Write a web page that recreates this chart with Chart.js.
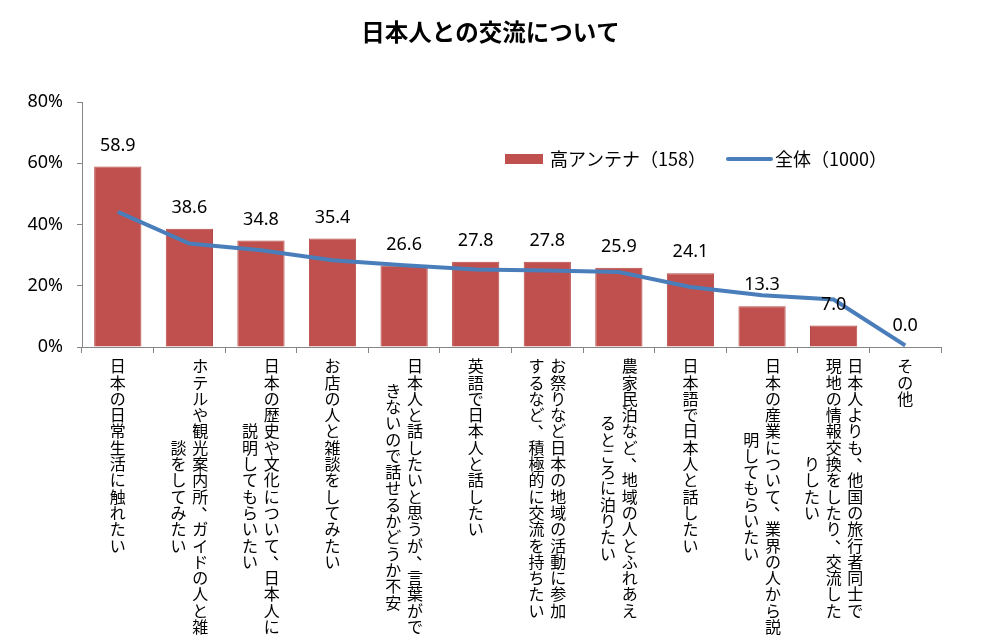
<!DOCTYPE html>
<html lang="ja">
<head>
<meta charset="utf-8">
<title>日本人との交流について</title>
<script src="https://cdn.jsdelivr.net/npm/chart.js@4.4.1/dist/chart.umd.min.js"></script>
<style>
  html, body { margin: 0; padding: 0; background: #fff; }
  #wrap { width: 981px; height: 636px; position: relative; }
</style>
</head>
<body>
<div id="wrap"><canvas id="chart"></canvas></div>
<script>
// 項目名（縦書き、1要素 = 1列、右から左へ）
const categories = [
  ['日本の日常生活に触れたい'],
  ['ホテルや観光案内所、ガイドの人と雑', '談をしてみたい'],
  ['日本の歴史や文化について、日本人に', '説明してもらいたい'],
  ['お店の人と雑談をしてみたい'],
  ['日本人と話したいと思うが、言葉がで', 'きないので話せるかどうか不安'],
  ['英語で日本人と話したい'],
  ['お祭りなど日本の地域の活動に参加', 'するなど、積極的に交流を持ちたい'],
  ['農家民泊など、地域の人とふれあえ', 'るところに泊りたい'],
  ['日本語で日本人と話したい'],
  ['日本の産業について、業界の人から説', '明してもらいたい'],
  ['日本人よりも、他国の旅行者同士で', '現地の情報交換をしたり、交流した', 'りしたい'],
  ['その他']
]

const highAntenna = [58.9, 38.6, 34.8, 35.4, 26.6, 27.8, 27.8, 25.9, 24.1, 13.3, 7.0, 0.0]
const overall = [44.1, 33.8, 31.6, 28.3, 26.7, 25.3, 25.0, 24.5, 19.6, 16.9, 15.5, 0.5]
const yTicks = [0, 20, 40, 60, 80]

const chartTitle = '日本人との交流について'
const seriesNames = ['高アンテナ（158）', '全体（1000）']
const barColor = '#C0504D'
const lineColor = '#4A7EBB'
const axisColor = '#868686'
const fontJP = '"Noto Sans CJK JP", "Noto Sans", sans-serif'

// タイトル（キャンバス中央）
const centerTitle = {
  id: 'centerTitle',
  afterDraw(chart) {
    const ctx = chart.ctx
    ctx.save()
    ctx.font = 'bold 23.5px ' + fontJP
    ctx.fillStyle = '#000'
    ctx.textAlign = 'center'
    ctx.textBaseline = 'middle'
    ctx.fillText(chartTitle, chart.width / 2, 32)
    ctx.restore()
  }
}

// 縦書きの項目ラベル
const verticalLabels = {
  id: 'verticalLabels',
  afterDraw(chart) {
    const ctx = chart.ctx
    const xs = chart.scales.x
    const area = chart.chartArea
    const pitch = 16.3
    const colGap = 21.7
    ctx.save()
    ctx.font = '16px ' + fontJP
    ctx.fillStyle = '#000'
    ctx.textAlign = 'center'
    ctx.textBaseline = 'middle'
    categories.forEach((cols, i) => {
      const cx = xs.getPixelForValue(i)
      const n = cols.length
      const maxLen = Math.max(...cols.map(c => [...c].length))
      const top = area.bottom + 11
      cols.forEach((col, j) => {
        const chars = [...col]
        const x = cx + (n - 1) / 2 * colGap - j * colGap
        const y0 = top + (maxLen - chars.length) * pitch / 2
        chars.forEach((ch, k) => {
          const y = y0 + k * pitch + pitch / 2
          if (ch === '、') {
            ctx.fillText(ch, x + 9, y - 9)
          } else {
            ctx.fillText(ch, x, y)
          }
        })
      })
    })
    ctx.restore()
  }
}

// 棒の上の数値
const barValues = {
  id: 'barValues',
  afterDatasetsDraw(chart) {
    const ctx = chart.ctx
    const meta = chart.getDatasetMeta(1)
    ctx.save()
    ctx.font = '18px "Noto Sans", sans-serif'
    ctx.fillStyle = '#000'
    ctx.textAlign = 'center'
    ctx.textBaseline = 'middle'
    meta.data.forEach((bar, i) => {
      ctx.fillText(highAntenna[i].toFixed(1), bar.x, bar.y - 21)
    })
    ctx.restore()
  }
}

// 凡例（グラフ内右上）
const insideLegend = {
  id: 'insideLegend',
  afterDraw(chart) {
    const ctx = chart.ctx
    const y = 159
    ctx.save()
    ctx.font = '18px ' + fontJP
    ctx.textBaseline = 'middle'

    ctx.fillStyle = barColor
    ctx.fillRect(505, y - 5, 38, 10)
    ctx.fillStyle = '#000'
    ctx.fillText(seriesNames[0], 550, y)

    ctx.strokeStyle = lineColor
    ctx.lineWidth = 4
    ctx.lineCap = 'round'
    ctx.beginPath()
    ctx.moveTo(728, y)
    ctx.lineTo(771, y)
    ctx.stroke()
    ctx.fillText(seriesNames[1], 775, y)
    ctx.restore()
  }
}

new Chart(document.getElementById('chart'), {
  data: {
    labels: categories.map(c => c.join('')),
    datasets: [
      {
        type: 'line',
        label: seriesNames[1],
        data: overall,
        borderColor: lineColor,
        borderWidth: 4,
        pointRadius: 0,
        tension: 0,
        order: 0
      },
      {
        type: 'bar',
        label: seriesNames[0],
        data: highAntenna,
        backgroundColor: barColor,
        borderColor: '#B54A47',
        borderWidth: 1,
        categoryPercentage: 1,
        barPercentage: 0.66,
        order: 1
      }
    ]
  },
  options: {
    responsive: true,
    maintainAspectRatio: false,
    animation: false,
    layout: {
      padding: { left: 0, right: 40, top: 102, bottom: 283 }
    },
    plugins: {
      legend: { display: false },
      tooltip: { enabled: false },
      title: { display: false }
    },
    scales: {
      x: {
        offset: true,
        ticks: { display: false },
        grid: {
          offset: true,
          drawOnChartArea: false,
          drawTicks: true,
          tickLength: 6,
          color: axisColor
        },
        border: { color: axisColor }
      },
      y: {
        min: yTicks[0],
        max: yTicks[yTicks.length - 1],
        afterBuildTicks(scale) {
          scale.ticks = yTicks.map(v => ({ value: v }))
        },
        afterFit(scale) {
          scale.width = 82
        },
        ticks: {
          color: '#000',
          padding: 14,
          font: { family: '"Noto Sans", sans-serif', size: 18 },
          callback: v => v + '%'
        },
        grid: {
          drawOnChartArea: false,
          drawTicks: true,
          tickLength: 5,
          color: axisColor
        },
        border: { color: axisColor }
      }
    }
  },
  plugins: [centerTitle, verticalLabels, barValues, insideLegend]
})
</script>
</body>
</html>
